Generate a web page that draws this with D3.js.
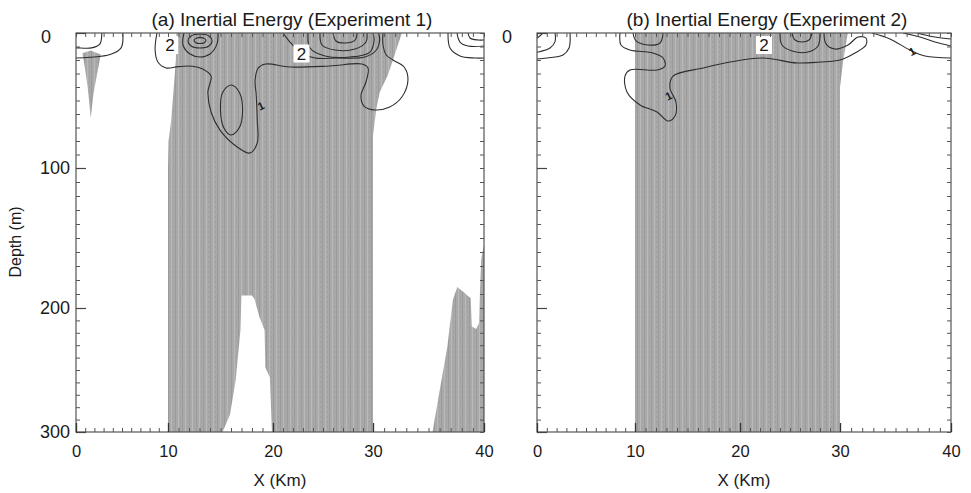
<!DOCTYPE html>
<html><head><meta charset="utf-8">
<script src="https://cdn.jsdelivr.net/npm/d3@7"></script>
<style>
body{margin:0;background:#fff}
svg{display:block}
text{font-family:"Liberation Sans",Arial,Helvetica,sans-serif;fill:#1a1a1a}
</style>
</head><body>
<svg id="chart" width="971" height="493"></svg>
<script>
// ---------- data (x in km, depth in m) ----------
const xTicks = [0, 10, 20, 30, 40];
const yTicks = [0, 100, 200, 300];
const titles = ["(a) Inertial Energy (Experiment 1)", "(b) Inertial Energy (Experiment 2)"];
const xLabel = "X (Km)";
const yLabel = "Depth (m)";

// shaded regions (inertial energy above threshold), experiment 1
const shadeA_main = [[10.8,0],[10.75,20],[10.5,45],[10.3,65],[10.05,80],[10,100],[10,300],
  [15.2,300],[15.9,286],[16.45,258],[16.9,218],[17.0,191],[18.0,191],[18.25,194],[18.7,207],
  [19.2,218],[19.27,248],[19.7,256],[19.9,300],[30,300],[30,120],[30,76],[30.3,56],[30.6,44],
  [31.35,31],[32.0,15],[32.6,0]];
const shadeA_wedge = [[0.7,15],[1.6,13],[2.7,16],[2.3,30],[1.9,45],[1.6,63],[1.3,42],[0.95,25]];
const shadeA_east = [[35.36,300],[35.9,272],[36.7,231],[37.2,194],[37.6,185],[38.2,189],[38.8,193],
  [38.9,215],[39.3,217],[39.55,212],[39.65,185],[39.75,165],[40,155],[40,300]];
// experiment 2
const shadeB_main = [[10,0],[10,300],[30,300],[30,40],[30.3,20],[30.7,0]];

// contour lines, experiment 1
const contA_long = [[8.8,0],[8.6,12.6],[8.9,21.5],[9.8,25.9],[10.95,24.9],[12.3,24.6],[13.3,26.7],
  [14.1,31.9],[13.8,43.7],[14.1,58.5],[14.95,71.9],[16.6,84.4],[17.8,88.9],[18.5,81.5],[18.5,64.4],
  [18.4,45.9],[18.3,34.8],[18.6,25.9],[19.3,23],[21.7,25.2],[25.7,24.4],[28.9,23],[29.5,25.9],
  [29.3,36.3],[28.8,45.9],[29.1,54.1],[30.2,57],[31.5,54.8],[32.6,47.4],[33.15,34.8],[32.8,25.2],
  [31.8,20],[31.2,16.3],[30.9,8.9],[30.9,0]];
const contA_nw1 = [[2.8,0],[2.6,8],[1.7,11],[0.2,11],[0,11]];
const contA_nw2 = [[5.1,0],[4.9,11],[3.7,16],[1.5,18],[0,18.5]];
const contA_p1a = [[12.48,5.6],[12.65,4],[13.05,3.4],[13.45,4],[13.62,5.6],[13.45,7.2],[13.05,7.8],[12.65,7.2]];
const contA_p1b = [[11.9,5.9],[12.2,2.2],[13.05,0.7],[13.9,2.2],[14.2,5.9],[13.9,9.6],[13.05,11.1],[12.2,9.6]];
const contA_p1c = [[11.52,0],[11.43,8.9],[12.1,15.6],[13.05,17.8],[14.0,15.6],[14.67,8.1],[14.76,0]];
const contA_oval = [[16.0,38.5],[16.8,44],[17.1,57],[16.8,70],[16.0,75.6],[15.3,70],[15.0,57],[15.2,44]];
const contA_p2a = [[26.0,0],[26.3,5.9],[27.2,7.4],[28.2,5.2],[28.4,0]];
const contA_p2b = [[24.7,0],[24.9,8.9],[26.2,12.6],[28.2,11.9],[29.3,6.7],[29.4,0]];
const contA_p2c = [[23.5,0],[23.7,11.1],[25.2,17],[27.7,17.8],[29.7,14.1],[30.1,5.2],[30.0,0]];
const contA_p2d = [[21.0,0],[21.7,6.7],[22.9,14.8],[24.2,18.5],[26.4,18.5],[29.2,17.8],[30.3,12.6],[30.6,5.2],[30.5,0]];
const contA_ne1 = [[36.76,0],[36.94,11.1],[37.84,17],[39.19,18.5],[40,18.5]];
const contA_ne2 = [[37.57,0],[37.84,6.7],[38.56,9.6],[40,9.6]];
const contA_ne3 = [[38.56,0],[38.74,3.7],[39.46,5.2],[40,5.2]];

// contour lines, experiment 2
const contB_long = [[8.47,0],[8.57,8.9],[9.49,12.6],[11.71,14.8],[12.67,18.5],[12.86,24.4],[12.1,27.4],
  [9.49,27.4],[8.98,31.9],[9.18,43.7],[10.48,53.3],[12.1,58.5],[13.14,65.2],[13.81,61.5],[13.9,51.1],
  [13.33,40.7],[13.62,31.9],[16.48,25.9],[19.05,21.5],[22.3,18.5],[25.7,22.2],[28.0,21.5],[30.0,20],
  [31.35,14.8],[32.34,8.9],[32.34,3.7],[31.62,3],[30.72,8.9],[29.5,11.9],[28.6,8.1],[28.4,0]];
const contB_nw0 = [[0,4],[0.4,1.5],[0.6,0]];
const contB_nw1 = [[1.84,0],[1.84,6.4],[1.33,11.1],[0.1,14.1],[0,14.2]];
const contB_nw2 = [[3.37,0],[3.27,11.1],[2.65,16.3],[1.02,18.5],[0,19.3]];
const contB_bump = [[9.8,0],[10.1,5.9],[11.24,8.9],[12.38,7.4],[12.67,0]];
const contB_p1a = [[25.2,0],[25.5,5.2],[26.2,6.7],[26.9,5.2],[27.2,0]];
const contB_p1b = [[24.0,0],[24.2,8.9],[25.2,13.3],[26.8,14.1],[27.8,9.6],[28.0,0]];
const contB_ne1 = [[32.88,0],[34.5,4.4],[36.3,12.6],[37.66,17],[40,18.5]];
const contB_ne2 = [[35.68,0],[37.2,3],[38.56,6.7],[40,9.6]];
const contB_ne3 = [[36.94,0],[38.56,3],[40,4.4]];

// contour labels
const labelsA = [{x:10.2, y:9, t:"2", box:true}, {x:22.85, y:15.2, t:"2", box:true}, {x:18.85, y:54, t:"1", box:false}];
const labelsB = [{x:22.4, y:8.9, t:"2", box:true}, {x:13.2, y:46.5, t:"1", box:false}, {x:36.5, y:13.5, t:"1", box:false}];

// ---------- drawing ----------
const svg = d3.select("#chart");
const defs = svg.append("defs");
const pat = defs.append("pattern").attr("id","tex").attr("patternUnits","userSpaceOnUse")
  .attr("width",7).attr("height",5);
pat.append("rect").attr("width",7).attr("height",5).attr("fill","#a9a9a9");
pat.append("rect").attr("x",0).attr("width",1).attr("height",5).attr("fill","#9b9b9b");
pat.append("rect").attr("x",3).attr("width",1).attr("height",5).attr("fill","#b9b9b9");
pat.append("rect").attr("x",5).attr("y",1).attr("width",1).attr("height",2).attr("fill","#a0a0a0");

const panels = [
  {title: titles[0], xr:[76,168,273,373,484], tx:292,
   shades:[shadeA_main, shadeA_wedge, shadeA_east],
   lines:[contA_long, contA_nw1, contA_nw2, contA_p1c, contA_p2a, contA_p2b, contA_p2c, contA_p2d, contA_ne1, contA_ne2, contA_ne3],
   loops:[contA_p1a, contA_p1b, contA_oval], labels: labelsA, yShow: yTicks},
  {title: titles[1], xr:[537,635,740,840,951], tx:767,
   shades:[shadeB_main],
   lines:[contB_long, contB_nw0, contB_nw1, contB_nw2, contB_bump, contB_p1a, contB_p1b, contB_ne1, contB_ne2, contB_ne3],
   loops:[], labels: labelsB, yShow: [0]}
];
const yr = [33,168,308,432];

panels.forEach((p, i) => {
  const x = d3.scaleLinear().domain(xTicks).range(p.xr);
  const y = d3.scaleLinear().domain(yTicks).range(yr);
  const x0 = p.xr[0], x1 = p.xr[p.xr.length-1], y0 = yr[0], y1 = yr[yr.length-1];
  const g = svg.append("g");
  const cid = "clip" + i;
  defs.append("clipPath").attr("id", cid).append("rect")
    .attr("x", x0).attr("y", y0).attr("width", x1-x0).attr("height", y1-y0);
  const plot = g.append("g").attr("clip-path", `url(#${cid})`);

  const area = d3.line().x(d => x(d[0])).y(d => y(d[1])).curve(d3.curveLinearClosed);
  plot.selectAll("path.shade").data(p.shades).join("path").attr("class","shade")
    .attr("d", area).attr("fill","url(#tex)").attr("stroke","none");

  const line = d3.line().x(d => x(d[0])).y(d => y(d[1])).curve(d3.curveCatmullRom.alpha(0.5));
  const loop = d3.line().x(d => x(d[0])).y(d => y(d[1])).curve(d3.curveCatmullRomClosed.alpha(0.5));
  plot.selectAll("path.cl").data(p.lines).join("path").attr("class","cl")
    .attr("d", line).attr("fill","none").attr("stroke","#2e2e2e").attr("stroke-width",1.1);
  plot.selectAll("path.cloop").data(p.loops).join("path").attr("class","cloop")
    .attr("d", loop).attr("fill","none").attr("stroke","#2e2e2e").attr("stroke-width",1.1);

  p.labels.forEach(l => {
    const lx = x(l.x), ly = y(l.y);
    if (l.box) {
      plot.append("rect").attr("x", lx-8).attr("y", ly-9).attr("width",16).attr("height",18).attr("fill","#fff");
      plot.append("text").attr("x", lx).attr("y", ly+6).attr("text-anchor","middle")
        .attr("font-size",17).attr("fill","#444").text(l.t);
    } else {
      plot.append("text").attr("x", lx).attr("y", ly+4).attr("text-anchor","middle")
        .attr("font-size",11).attr("font-weight","bold").attr("fill","#222")
        .attr("transform", `rotate(-25,${lx},${ly})`).text(l.t);
    }
  });

  // frame
  g.append("rect").attr("x", x0).attr("y", y0).attr("width", x1-x0).attr("height", y1-y0)
    .attr("fill","none").attr("stroke","#555").attr("stroke-width",1.2);

  const minorX = d3.range(0, 41, 1), minorY = d3.range(0, 301, 10);
  const style = s => { s.select(".domain").remove(); s.selectAll("line").attr("stroke","#555"); };
  g.append("g").attr("transform",`translate(0,${y1})`).call(d3.axisBottom(x).tickValues(minorX).tickSize(-4).tickFormat("")).call(style);
  g.append("g").attr("transform",`translate(0,${y0})`).call(d3.axisTop(x).tickValues(minorX).tickSize(-4).tickFormat("")).call(style);
  g.append("g").attr("transform",`translate(${x0},0)`).call(d3.axisLeft(y).tickValues(minorY).tickSize(-4).tickFormat("")).call(style);
  g.append("g").attr("transform",`translate(${x1},0)`).call(d3.axisRight(y).tickValues(minorY).tickSize(-4).tickFormat("")).call(style);

  const xa = g.append("g").attr("transform",`translate(0,${y1})`)
    .call(d3.axisBottom(x).tickValues(xTicks).tickSize(-9).tickPadding(13).tickFormat(d3.format("d"))).call(style);
  xa.selectAll("line").attr("stroke","#333").attr("stroke-width",1.3);
  xa.selectAll("text").attr("font-size",16.5).attr("fill","#1a1a1a").attr("font-family","Liberation Sans, Arial, sans-serif");

  const ya = g.append("g").attr("transform",`translate(${x0},0)`)
    .call(d3.axisLeft(y).tickValues(yTicks).tickSize(-10).tickPadding(6).tickFormat(d => p.yShow.includes(d) ? d3.format("d")(d) : "")).call(style);
  ya.selectAll("line").attr("stroke","#444").attr("stroke-width",1.2);
  ya.selectAll("text").attr("font-size",18).attr("fill","#1a1a1a").attr("font-family","Liberation Sans, Arial, sans-serif");
  ya.selectAll(".tick").filter(d => d === 0).select("text").attr("x", -25).attr("dy","0.55em");

  g.append("text").attr("x", p.tx).attr("y", 26).attr("text-anchor","middle")
    .attr("font-size",19).text(p.title);
  g.append("text").attr("x", (x0+x1)/2).attr("y", 486).attr("text-anchor","middle")
    .attr("font-size",17).text(xLabel);
});

svg.append("text").attr("transform","translate(21,242) rotate(-90)").attr("text-anchor","middle")
  .attr("font-size",16).text(yLabel);
</script>
</body></html>
